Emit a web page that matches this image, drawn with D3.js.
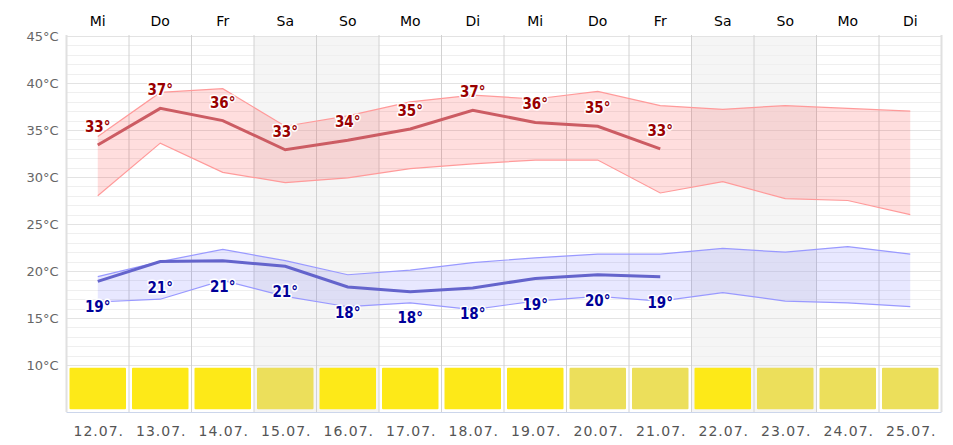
<!DOCTYPE html>
<html lang="de">
<head>
  <meta charset="UTF-8">
  <title>Temperatur</title>
  <style>
    body { margin: 0; background: #fff; }
    svg { display: block; font-family: "DejaVu Sans", Verdana, sans-serif; }
    .lbl { font-family: "DejaVu Sans Condensed", "DejaVu Sans", sans-serif; font-weight: bold; font-size: 15px; paint-order: stroke; stroke: #fff; stroke-width: 3px; stroke-linejoin: round; }
  </style>
</head>
<body>
<div id="chart"></div>
<script src="https://d3js.org/d3.v7.min.js"></script>
<script>
  // Wochentage und Datum
  const days = ['Mi', 'Do', 'Fr', 'Sa', 'So', 'Mo', 'Di', 'Mi', 'Do', 'Fr', 'Sa', 'So', 'Mo', 'Di']
  const dates = ['12.07.', '13.07.', '14.07.', '15.07.', '16.07.', '17.07.', '18.07.',
    '19.07.', '20.07.', '21.07.', '22.07.', '23.07.', '24.07.', '25.07.']

  // Höchsttemperatur: Bandbreite und Mittel
  const maxHigh = [34.3, 39.0, 39.4, 35.4, 36.5, 38.0, 38.7, 38.3, 39.1, 37.6, 37.2, 37.6, 37.3, 37.0]
  const maxLow = [28.0, 33.6, 30.5, 29.4, 29.9, 30.9, 31.4, 31.8, 31.8, 28.3, 29.5, 27.7, 27.5, 26.0]
  const maxMean = [33.4, 37.3, 36.0, 32.9, 33.9, 35.1, 37.1, 35.8, 35.4, 33.0]
  const maxLabels = [33, 37, 36, 33, 34, 35, 37, 36, 35, 33]

  // Tiefsttemperatur
  const minHigh = [19.4, 21.0, 22.3, 21.1, 19.6, 20.1, 20.9, 21.4, 21.8, 21.8, 22.4, 22.0, 22.6, 21.8]
  const minLow = [16.7, 17.0, 19.0, 17.3, 16.2, 16.6, 15.9, 16.8, 17.3, 16.8, 17.7, 16.8, 16.6, 16.2]
  const minMean = [18.9, 21.0, 21.1, 20.5, 18.3, 17.8, 18.2, 19.2, 19.6, 19.4]
  const minLabels = [19, 21, 21, 21, 18, 18, 18, 19, 20, 19]

  // Sonne: 1 = sonnig, 0 = heiter
  const sun = [1, 1, 1, 0, 1, 1, 1, 1, 0, 0, 1, 0, 0, 0]

  const yTicks = [10, 15, 20, 25, 30, 35, 40, 45]

  function draw() {
    const W = 953, H = 445
    const pLeft = 66.5, pRight = 941.5, pTop = 36, pBottom = 412

    const svg = d3.select('#chart').append('svg')
      .attr('width', W).attr('height', H)

    const x = d3.scaleBand().domain(d3.range(days.length)).range([pLeft, pRight]).padding(0)
    const y = d3.scaleLinear().domain([5, 45]).range([pBottom, pTop])
    const cx = i => x(i) + x.bandwidth() / 2

    // Wochenende grau
    svg.append('g').selectAll('rect')
      .data(days.map((d, i) => i).filter(i => days[i] === 'Sa' || days[i] === 'So'))
      .enter().append('rect')
      .attr('x', i => x(i)).attr('width', x.bandwidth())
      .attr('y', pTop).attr('height', pBottom - pTop)
      .attr('fill', '#f5f5f5')

    // kleine Gitterlinien jedes Grad
    svg.append('g').selectAll('line')
      .data(d3.range(10, 46).filter(t => t % 5 !== 0))
      .enter().append('line')
      .attr('x1', pLeft).attr('x2', pRight)
      .attr('y1', t => Math.round(y(t)) + 0.5).attr('y2', t => Math.round(y(t)) + 0.5)
      .attr('stroke', '#efefef')

    // Hauptgitter + y-Achse
    const yAxis = d3.axisLeft(y).tickValues(yTicks).tickSize(-(pRight - pLeft)).tickFormat(d => d + '°C')
    const gy = svg.append('g').attr('transform', `translate(${pLeft},0)`).call(yAxis)
    gy.select('.domain').remove()
    gy.selectAll('.tick line').attr('stroke', '#e3e3e3')
    gy.selectAll('.tick text').attr('x', -8).attr('fill', '#666').style('font-size', '13px')
      .style('font-family', '"DejaVu Sans", sans-serif')

    // senkrechte Linien
    svg.append('g').selectAll('line')
      .data(d3.range(days.length + 1))
      .enter().append('line')
      .attr('x1', i => i < days.length ? x(i) : pRight).attr('x2', i => i < days.length ? x(i) : pRight)
      .attr('y1', pTop - 1).attr('y2', pBottom)
      .attr('stroke', (d, i) => (i === 0 || i === days.length) ? '#e0e0e0' : '#d2d2d2')
      .attr('stroke-width', (d, i) => (i === 0 || i === days.length) ? 2 : 1)

    // Sonnen-Kästchen
    svg.append('g').selectAll('rect')
      .data(sun)
      .enter().append('rect')
      .attr('x', (d, i) => x(i) + 3).attr('width', x.bandwidth() - 6)
      .attr('y', y(9.7)).attr('height', y(5.3) - y(9.7))
      .attr('rx', 1)
      .attr('fill', d => d ? '#fde918' : '#ecdf5b')

    // x-Achse unten
    svg.append('line')
      .attr('x1', pLeft).attr('x2', pRight)
      .attr('y1', pBottom + 0.5).attr('y2', pBottom + 0.5)
      .attr('stroke', '#ccd6eb')

    const band = (hi, lo) => d3.area()
      .x((d, i) => cx(i)).y0((d, i) => y(lo[i])).y1((d, i) => y(hi[i]))(hi)
    const line = arr => d3.line().x((d, i) => cx(i)).y(d => y(d))(arr)

    // rote Fläche (Höchstwerte)
    svg.append('path').attr('d', band(maxHigh, maxLow)).attr('fill', 'rgba(255,0,0,0.13)')
    svg.append('path').attr('d', line(maxHigh)).attr('fill', 'none').attr('stroke', '#ff9a9a').attr('stroke-width', 1.2)
    svg.append('path').attr('d', line(maxLow)).attr('fill', 'none').attr('stroke', '#ff9a9a').attr('stroke-width', 1.2)

    // blaue Fläche (Tiefstwerte)
    svg.append('path').attr('d', band(minHigh, minLow)).attr('fill', 'rgba(0,0,255,0.09)')
    svg.append('path').attr('d', line(minHigh)).attr('fill', 'none').attr('stroke', '#9999ff').attr('stroke-width', 1.2)
    svg.append('path').attr('d', line(minLow)).attr('fill', 'none').attr('stroke', '#9999ff').attr('stroke-width', 1.2)

    svg.append('path').attr('d', line(maxMean)).attr('fill', 'none').attr('stroke', '#cc5c63').attr('stroke-width', 3)
    svg.append('path').attr('d', line(minMean)).attr('fill', 'none').attr('stroke', '#6464cc').attr('stroke-width', 3)

    // Werte
    svg.append('g').selectAll('text')
      .data(maxLabels)
      .enter().append('text')
      .attr('class', 'lbl')
      .attr('x', (d, i) => cx(i)).attr('y', (d, i) => y(maxMean[i]) - 13)
      .attr('text-anchor', 'middle').attr('fill', '#990000')
      .text(d => d + '°')

    svg.append('g').selectAll('text')
      .data(minLabels)
      .enter().append('text')
      .attr('class', 'lbl')
      .attr('x', (d, i) => cx(i)).attr('y', (d, i) => y(minMean[i]) + 31)
      .attr('text-anchor', 'middle').attr('fill', '#000099')
      .text(d => d + '°')

    // Wochentage oben
    svg.append('g').selectAll('text')
      .data(days)
      .enter().append('text')
      .attr('x', (d, i) => cx(i)).attr('y', 26)
      .attr('text-anchor', 'middle').attr('fill', '#000')
      .style('font-size', '14px')
      .text(d => d)

    // Datum unten
    svg.append('g').selectAll('text')
      .data(dates)
      .enter().append('text')
      .attr('x', (d, i) => cx(i) + 1).attr('y', 436)
      .attr('text-anchor', 'middle').attr('fill', '#555')
      .style('font-size', '14px').style('letter-spacing', '1px')
      .text(d => d)
  }

  draw()
</script>
</body>
</html>
